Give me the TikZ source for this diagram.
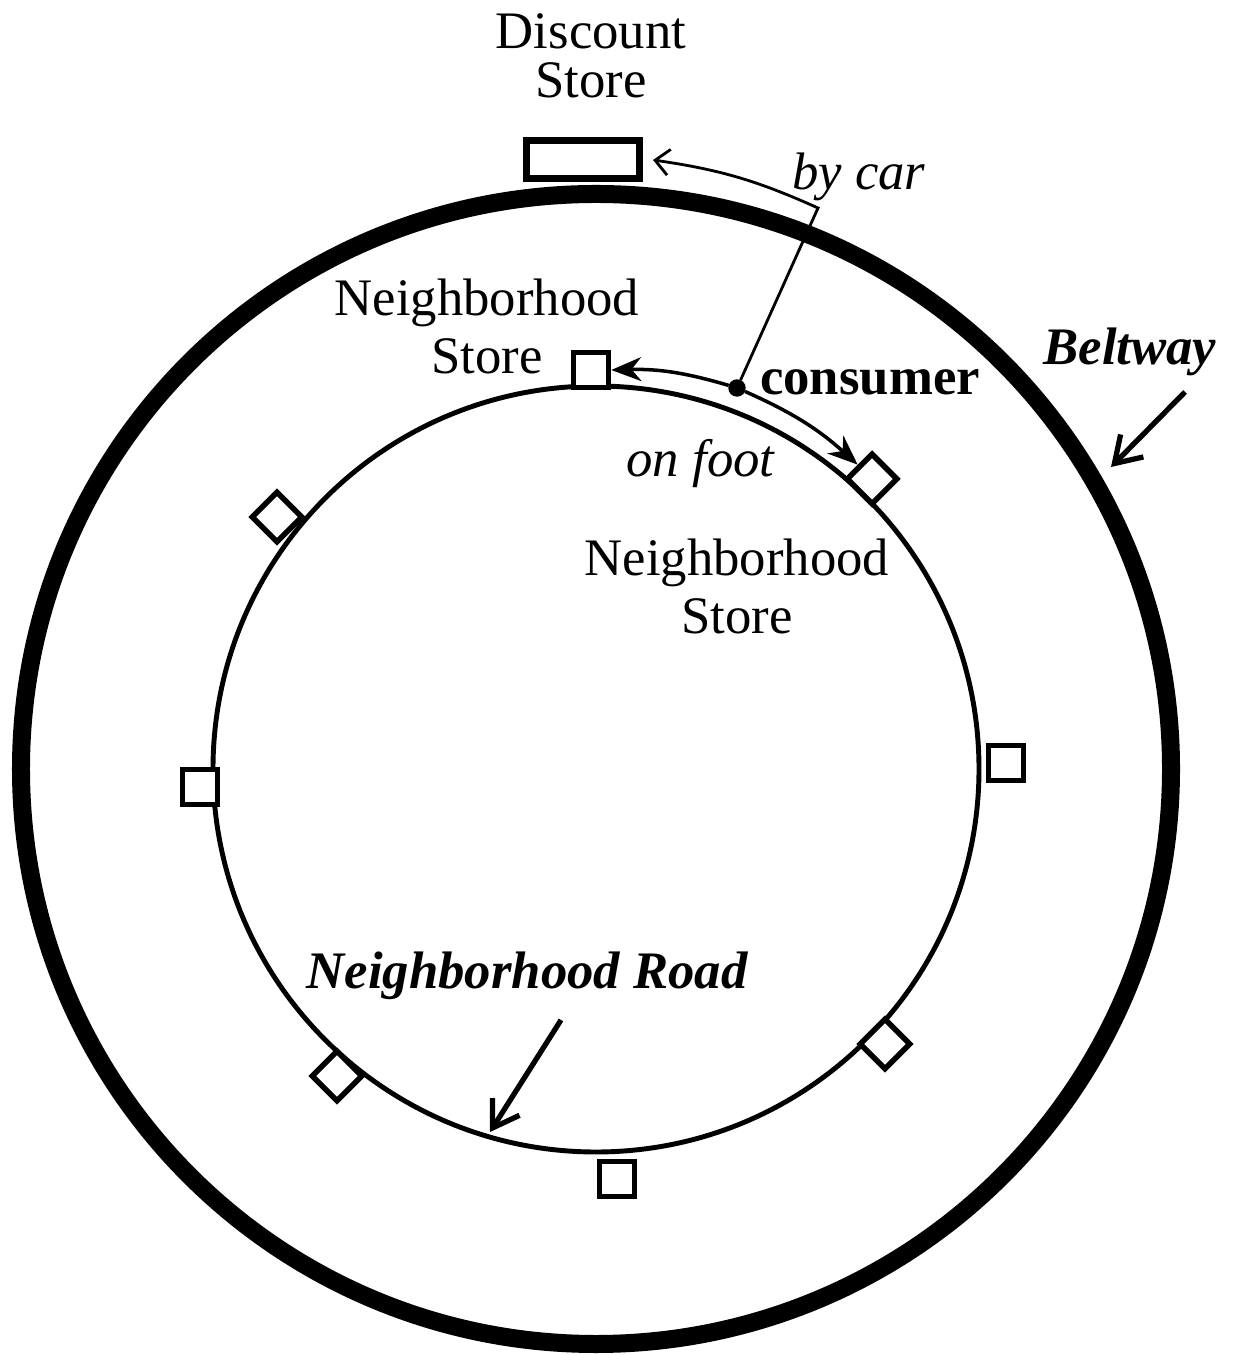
\documentclass[tikz,border=0pt]{standalone}
\usepackage{fontspec}
\setmainfont{Liberation Serif}
\usetikzlibrary{arrows.meta, positioning}

\begin{document}
\begin{tikzpicture}[
  every node/.style={font=\fontsize{15}{16.5}\selectfont},
  beltway/.style={line width=0.18cm},
  road/.style={line width=1.4pt},
  shop/.style={rectangle, draw, fill=white, line width=1.6pt, minimum size=0.35cm, inner sep=0pt},
  bigshop/.style={rectangle, draw, fill=white, line width=2pt, minimum width=1.13cm, minimum height=0.38cm, inner sep=0pt},
  dot/.style={circle, draw, fill, inner sep=0pt, minimum size=0.16cm},
  tag/.style={inner sep=0pt, anchor=base},
  block/.style={inner sep=0pt, align=center, anchor=south},
  walk/.style={-{Stealth[length=3mm, width=2.4mm]}, line width=1pt},
  drive/.style={-{Straight Barb[length=1.4mm, width=2.6mm]}, line width=0.8pt},
  pointer/.style={-{Straight Barb[length=2.5mm, width=3.2mm]}, line width=1.5pt}
]
\fill[white] (-5.96,-5.86) rectangle (6.39,7.69);
\useasboundingbox (-5.96,-5.86) rectangle (6.39,7.69);

% the two ring roads
\draw[beltway] (0,0) circle[radius=5.75];
\draw[road] (0,0) circle[radius=3.83];

% stores
\node[bigshop] (discount) at (-0.13,6.09) {};
\node[shop] (nsN) at (-0.05,3.99) {};
\node[shop, rotate=45] (nsNE) at (2.76,2.90) {};
\node[shop] (nsE) at (4.10,0.06) {};
\node[shop, rotate=45] (nsSE) at (2.89,-2.75) {};
\node[shop] (nsS) at (0.21,-4.10) {};
\node[shop, rotate=45] (nsSW) at (-2.59,-3.07) {};
\node[shop] (nsW) at (-3.96,-0.18) {};
\node[shop, rotate=45] (nsNW) at (-3.19,2.52) {};
\node[dot] (consumer) at (1.41,3.81) {};

% labels
\node[block, font=\fontsize{15}{14}\selectfont, above=0.39cm of discount, xshift=0.08cm] (discountlbl) {Discount\\Store};
\node[block, font=\fontsize{15}{16.5}\selectfont] (nslblN) at (-1.09,3.94) {Neighborhood\\Store};
\node[block, font=\fontsize{15}{16.5}\selectfont] (nslblNE) at (1.41,1.34) {Neighborhood\\Store};
\node[tag] (bycar) at (2.63,5.79) {\textit{by car}};
\node[tag] (onfoot) at (1.05,2.92) {\textit{on foot}};
\node[tag] (consumerlbl) at (2.74,3.74) {\textbf{consumer}};
\node[tag] (beltlbl) at (5.34,4.04) {\textbf{\textit{Beltway}}};
\node[tag] (roadlbl) at (-0.685,-2.19) {\textbf{\textit{Neighborhood Road}}};

% trips from the consumer
\draw[walk] (consumer) to[bend right=9] (nsN.east);
\draw[walk] (consumer) to[bend left=9] (nsNE.north);
\coordinate (carturn) at (2.22,5.61);
\draw[drive] (consumer) -- (carturn) to[bend right=8] ([xshift=0.1cm]discount.east);

% pointers to the roads
\coordinate (belttail) at (5.89,3.77);
\coordinate (belttip) at (5.15,3.02);
\draw[pointer] (belttail) -- (belttip);
\coordinate (roadtail) at (-0.35,-2.51);
\coordinate (roadtip) at (-1.06,-3.63);
\draw[pointer] (roadtail) -- (roadtip);
\end{tikzpicture}
\end{document}
